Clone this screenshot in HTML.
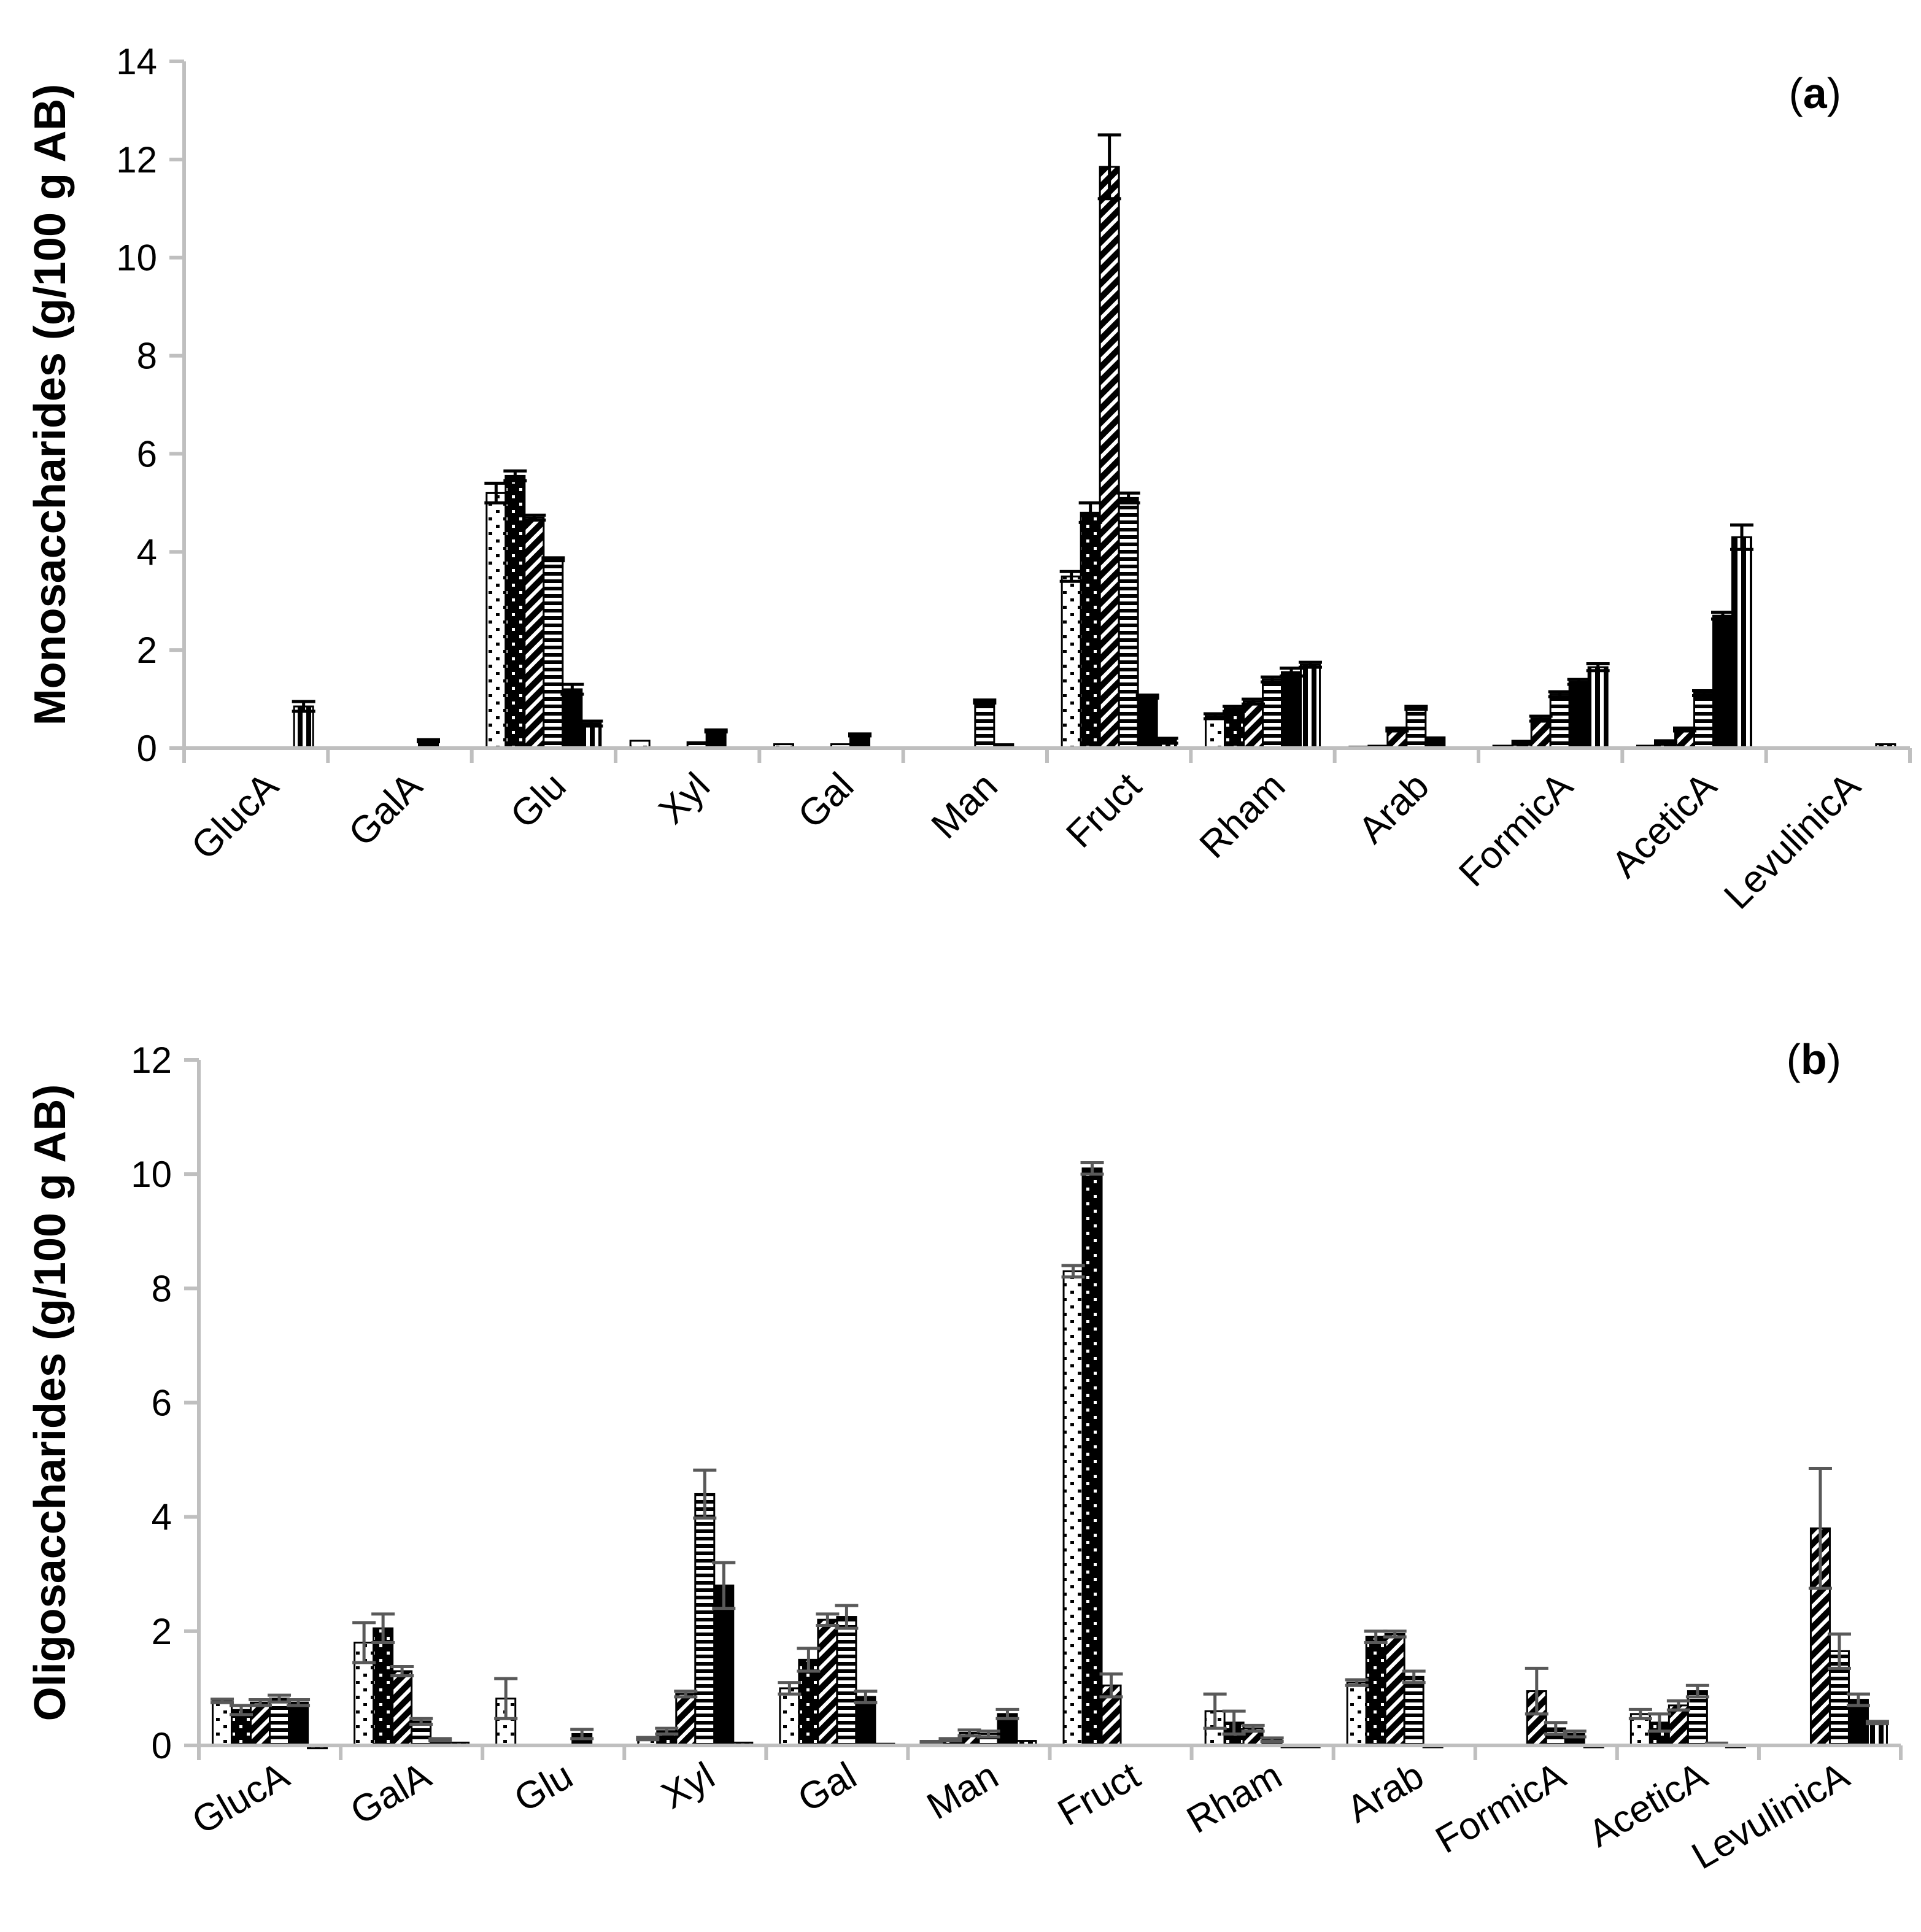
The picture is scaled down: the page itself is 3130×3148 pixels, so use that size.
<!DOCTYPE html>
<html><head><meta charset="utf-8"><style>
html,body{margin:0;padding:0;background:#fff;}
svg{display:block;}
text{font-family:"Liberation Sans",sans-serif;}
</style></head><body>
<svg id="chart" width="3130" height="3148" viewBox="0 0 3130 3148" xmlns="http://www.w3.org/2000/svg">
<defs>
<pattern id="p1" patternUnits="userSpaceOnUse" width="24" height="24"><rect width="24" height="24" fill="#fff"/><rect x="4" y="3" width="6" height="5" fill="#000"/><rect x="16" y="15" width="6" height="5" fill="#000"/></pattern>
<pattern id="p2" patternUnits="userSpaceOnUse" width="24" height="24"><rect width="24" height="24" fill="#000"/><rect x="6" y="3" width="5" height="5" fill="#fff"/><rect x="18" y="15" width="5" height="5" fill="#fff"/></pattern>
<pattern id="p3" patternUnits="userSpaceOnUse" width="16" height="16" patternTransform="rotate(45)"><rect width="16" height="16" fill="#000"/><rect x="0" y="0" width="6" height="16" fill="#fff"/></pattern>
<pattern id="p4" patternUnits="userSpaceOnUse" width="12" height="12"><rect width="12" height="12" fill="#000"/><rect x="0" y="2" width="12" height="6" fill="#fff"/></pattern>
<pattern id="p5" patternUnits="userSpaceOnUse" width="10" height="10"><rect width="10" height="10" fill="#000"/></pattern>
<pattern id="p6" patternUnits="userSpaceOnUse" width="14" height="14"><rect width="14" height="14" fill="#000"/><rect x="3" y="0" width="6" height="14" fill="#fff"/></pattern>
</defs>
<g id="panelA"></g>
<g id="panelB"></g>
</svg>
<script>
const categories = ["GlucA","GalA","Glu","Xyl","Gal","Man","Fruct","Rham","Arab","FormicA","AceticA","LevulinicA"];
// Panel (a) monosaccharides: series s1..s6 per category
const monoS1 = [0,0,5.2,0.15,0.08,0,3.5,0.65,0.03,0.05,0.05,0];
const monoS2 = [0,0,5.55,0,0,0,4.8,0.8,0.05,0.15,0.12,0];
const monoS3 = [0,0,4.7,0,0,0,11.85,0.95,0.38,0.6,0.38,0];
const monoS4 = [0,0,3.85,0.12,0.08,0.95,5.1,1.4,0.82,1.1,1.12,0];
const monoS5 = [0,0.15,1.2,0.35,0.27,0.08,1.05,1.55,0.22,1.35,2.7,0];
const monoS6 = [0.85,0,0.5,0,0,0,0.15,1.7,0,1.65,4.3,0.08];
const monoE1 = [0,0,0.2,0,0,0,0.1,0.05,0,0,0,0];
const monoE2 = [0,0,0.1,0,0,0,0.2,0.05,0,0,0.03,0];
const monoE3 = [0,0,0.05,0,0,0,0.65,0.05,0.03,0.05,0.03,0];
const monoE4 = [0,0,0.03,0,0,0.03,0.1,0.05,0.03,0.05,0.05,0];
const monoE5 = [0,0.02,0.1,0.02,0.02,0,0.03,0.08,0,0.05,0.07,0];
const monoE6 = [0.1,0,0.05,0,0,0,0.05,0.05,0,0.07,0.25,0];
const monoTicks = [0,2,4,6,8,10,12,14];
// Panel (b) oligosaccharides
const oligoS1 = [0.78,1.8,0.82,0.12,1.0,0.05,8.3,0.6,1.1,0,0.55,0];
const oligoS2 = [0.62,2.05,0,0.25,1.5,0.1,10.1,0.4,1.9,0,0.4,0];
const oligoS3 = [0.75,1.3,0,0.9,2.2,0.22,1.05,0.3,1.95,0.95,0.7,3.8];
const oligoS4 = [0.82,0.42,0,4.4,2.25,0.2,0,0.1,1.2,0.3,0.95,1.65];
const oligoS5 = [0.75,0.1,0.2,2.8,0.85,0.55,0,-0.02,-0.02,0.2,0.02,0.8];
const oligoS6 = [-0.05,0.05,0,0.05,0.03,0.08,0,-0.02,0,-0.03,-0.03,0.4];
const oligoE1 = [0.03,0.35,0.35,0.02,0.1,0.02,0.1,0.3,0.05,0,0.08,0];
const oligoE2 = [0.08,0.25,0,0.05,0.2,0.02,0.1,0.2,0.1,0,0.15,0];
const oligoE3 = [0.05,0.08,0,0.05,0.1,0.05,0.2,0.05,0.05,0.4,0.08,1.05];
const oligoE4 = [0.06,0.05,0,0.42,0.2,0.05,0,0.03,0.1,0.1,0.1,0.3];
const oligoE5 = [0.05,0.02,0.08,0.4,0.1,0.08,0,0,0,0.05,0.02,0.1];
const oligoE6 = [0,0,0,0,0,0,0,0,0,0,0,0.02];
const oligoTicks = [0,2,4,6,8,10,12];

const NS="http://www.w3.org/2000/svg";
function mk(tag, attrs, parent){const e=document.createElementNS(NS,tag);for(const k in attrs)e.setAttribute(k,attrs[k]);parent.appendChild(e);return e;}

function drawPanel(g, cfg){
  const {x0,y0,yTop,vmax,xEnd,series,errs,ticks,title,tag,tagY,errColor,labelAngle,labelDy,labelDx} = cfg;
  const yS = v => y0 - (v/vmax)*(y0-yTop);
  const gw = (xEnd-x0)/categories.length;
  const bw = 31;
  const xB = (ci,si) => x0 + ci*gw + (gw-6*bw)/2 + si*bw;
  series.forEach((arr,si)=>{
    arr.forEach((v,ci)=>{
      if(Math.abs(v)<1e-9) return;
      const y1=yS(Math.max(v,0)), y2=yS(Math.min(v,0));
      const r=mk('rect',{x:xB(ci,si),y:y1,width:bw,height:Math.max(y2-y1,3),fill:'url(#p'+(si+1)+')',stroke:'#000','stroke-width':3},g);
      
      
    });
  });
  series.forEach((arr,si)=>{
    arr.forEach((v,ci)=>{
      const e=errs[si][ci]; if(!e) return;
      const cx=xB(ci,si)+bw/2;
      const eg=mk('g',{stroke:errColor,'stroke-width':5,fill:'none'},g);
      
      
      mk('line',{x1:cx,x2:cx,y1:yS(v+e),y2:yS(v-e)},eg);
      mk('line',{x1:cx-19,x2:cx+19,y1:yS(v+e),y2:yS(v+e)},eg);
      mk('line',{x1:cx-19,x2:cx+19,y1:yS(v-e),y2:yS(v-e)},eg);
    });
  });
  const ax=mk('g',{stroke:'#bfbfbf','stroke-width':6},g);
  
  
  mk('line',{x1:x0,x2:x0,y1:yTop,y2:y0+24},ax);
  mk('line',{x1:x0-24,x2:xEnd,y1:y0,y2:y0},ax);
  ticks.forEach(t=>{
    mk('line',{x1:x0-24,x2:x0,y1:yS(t),y2:yS(t)},ax);
    const tl=mk('text',{x:x0-44,y:yS(t)+21,'text-anchor':'end','font-size':60,fill:'#000'},g);
    tl.textContent=t;
    
    
  });
  for(let i=1;i<=categories.length;i++) mk('line',{x1:x0+i*gw,x2:x0+i*gw,y1:y0,y2:y0+24},ax);
  categories.forEach((c,ci)=>{
    const cx=x0+ci*gw+gw/2+labelDx, cy=y0+labelDy;
    const t=mk('text',{x:cx,y:cy,'text-anchor':'end','font-size':62,fill:'#000',transform:`rotate(${labelAngle} ${cx} ${cy})`},g);
    t.textContent=c;
    
    
  });
  const ty=mk('text',{x:0,y:0,'text-anchor':'middle','font-size':72,'font-weight':'bold',fill:'#000',transform:`translate(106 ${(y0+yTop)/2}) rotate(-90)`},g);
  ty.textContent=title;
  
  
  const pt=mk('text',{x:3000,y:tagY,'text-anchor':'end','font-size':70,fill:'#000'},g);
  pt.innerHTML='(<tspan font-weight="bold">'+tag+'</tspan>)';
  
  
}

drawPanel(document.getElementById('panelA'),{x0:300,y0:1219,yTop:100,vmax:14,xEnd:3112,
  series:[monoS1,monoS2,monoS3,monoS4,monoS5,monoS6],errs:[monoE1,monoE2,monoE3,monoE4,monoE5,monoE6],
  ticks:monoTicks,title:'Monosaccharides (g/100 g AB)',tag:'a',tagY:176,errColor:'#000',labelAngle:-45,labelDy:66,labelDx:40});
drawPanel(document.getElementById('panelB'),{x0:324,y0:2844,yTop:1727,vmax:12,xEnd:3097,
  series:[oligoS1,oligoS2,oligoS3,oligoS4,oligoS5,oligoS6],errs:[oligoE1,oligoE2,oligoE3,oligoE4,oligoE5,oligoE6],
  ticks:oligoTicks,title:'Oligosaccharides (g/100 g AB)',tag:'b',tagY:1750,errColor:'#595959',labelAngle:-30,labelDy:62,labelDx:36});
</script>
</body></html>
